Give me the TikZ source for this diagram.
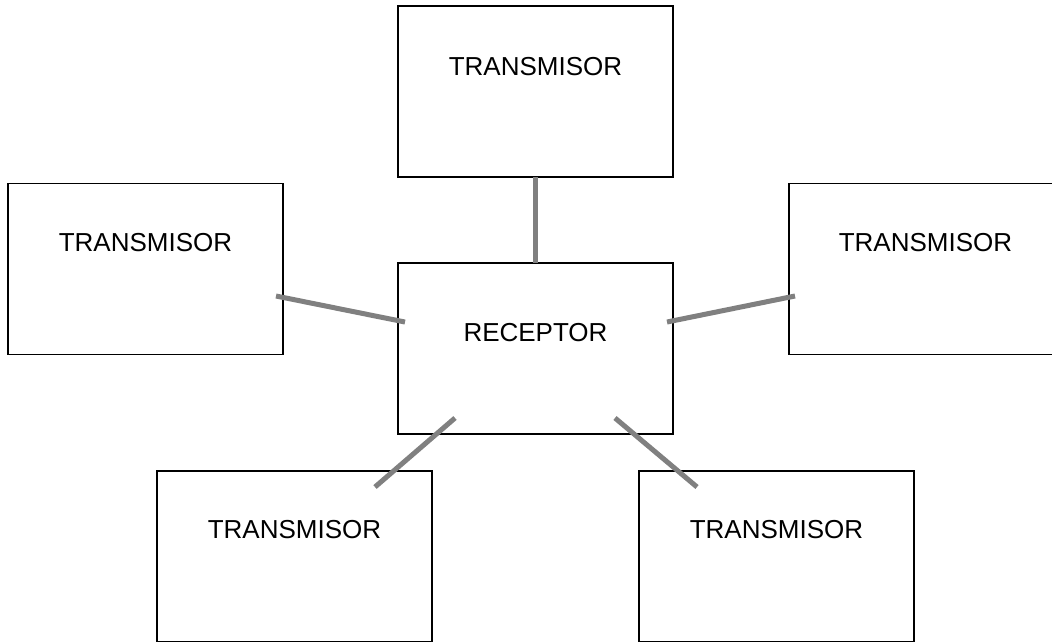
\documentclass[tikz,border=0pt]{standalone}
\usepackage{fontspec}
\setmainfont{Liberation Sans}
\usetikzlibrary{positioning}
\definecolor{conngray}{HTML}{808080}
\tikzset{
  box/.style={draw=black, line width=1.6pt, fill=white, minimum width=275pt, minimum height=171pt, inner sep=0pt, outer sep=0pt},
  lbl/.style={font=\fontsize{26}{30}\selectfont, inner sep=0pt, anchor=base},
  conn/.style={draw=conngray, line width=5pt}
}
\begin{document}
\begin{tikzpicture}[x=1pt,y=-1pt]
\useasboundingbox (0,0) rectangle (1052,641);
\clip (0,0) rectangle (1052,641);
\fill[white] (0,0) rectangle (1052,641);
% boxes
\node[box] (top) at (535.5,91.5) {};
\node[box] (lft) at (145.5,269) {};
\node[box] (rgt) at (926.5,269) {};
\node[box] (rec) at (535.5,348.5) {};
\node[box] (bl) at (294.5,556.5) {};
\node[box] (br) at (776.5,556.5) {};
% labels
\node[lbl] (topl) at ([yshift=-69pt]top.north) {TRANSMISOR};
\node[lbl] (lftl) at ([yshift=-68pt]lft.north) {TRANSMISOR};
\node[lbl] (rgtl) at ([xshift=-1pt,yshift=-68pt]rgt.north) {TRANSMISOR};
\node[lbl] (recl) at ([yshift=-78pt]rec.north) {RECEPTOR};
\node[lbl] (bll) at ([yshift=-67pt]bl.north) {TRANSMISOR};
\node[lbl] (brl) at ([yshift=-67pt]br.north) {TRANSMISOR};
% connectors
\draw[conn] (top.south) -- (rec.north);
\draw[conn] ([xshift=-7pt,yshift=-27pt]lft.east) -- ([xshift=7pt,yshift=26.5pt]rec.west);
\draw[conn] ([xshift=-6pt,yshift=26.5pt]rec.east) -- ([xshift=6pt,yshift=-27pt]rgt.west);
\draw[conn] ([xshift=80.5pt,yshift=-16pt]bl.north) -- ([xshift=-80.5pt,yshift=16pt]rec.south);
\draw[conn] ([xshift=79.5pt,yshift=16pt]rec.south) -- ([xshift=-79.5pt,yshift=-16pt]br.north);
\end{tikzpicture}
\end{document}
